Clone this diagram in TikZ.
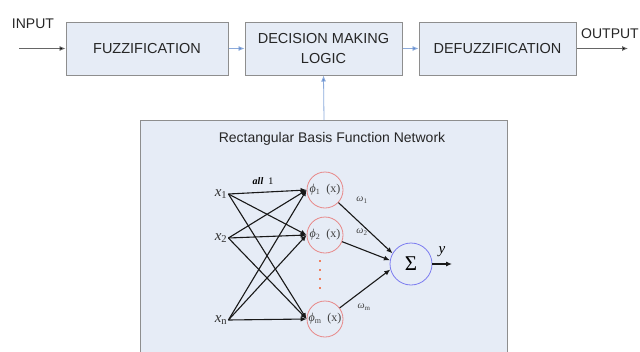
\documentclass[tikz,border=0pt]{standalone}
\usepackage{fontspec}
\setmainfont{Liberation Serif}
\setsansfont{Liberation Sans}
\usetikzlibrary{arrows.meta}
\definecolor{boxfill}{HTML}{E6ECF6}
\definecolor{boxline}{HTML}{8E8E8E}
\definecolor{linkblue}{HTML}{5A86CC}
\definecolor{phired}{HTML}{E88888}
\definecolor{sumblue}{HTML}{7C7CF0}
\definecolor{dotred}{HTML}{F08060}
\newcommand{\sub}[1]{\textsubscript{#1}}
\tikzset{x=1pt,y=-1pt,
 stage/.style={draw=boxline,fill=boxfill,line width=1pt,minimum height=53pt,
   align=center,text=black!85,font=\sffamily\fontsize{14.5}{20}\selectfont},
 panel/.style={draw=boxline,fill=boxfill,line width=1pt,anchor=north west,
   minimum width=367pt,minimum height=250pt},
 feed/.style={draw=black!60,line width=0.8pt,-{Latex[length=6pt,width=5pt,fill=black]}},
 link/.style={draw=linkblue!70,line width=0.8pt,-{Latex[length=6pt,width=5pt,fill=linkblue]}},
 unit/.style={circle,draw=phired,line width=0.8pt,minimum size=36pt,inner sep=0pt,
   text=black!75,font=\fontsize{12}{14}\selectfont},
 summer/.style={circle,draw=sumblue,line width=0.8pt,minimum size=42pt,inner sep=0pt,
   font=\fontsize{21}{24}\selectfont},
 wire/.style={draw=black!90,line width=1.1pt,-{Latex[length=6pt,width=5pt]}},
 inlabel/.style={inner sep=1pt,text=black!80,font=\fontsize{15}{17}\selectfont},
 weight/.style={text=black!75,font=\fontsize{10}{12}\selectfont},
 }

\begin{document}
\begin{tikzpicture}
    \useasboundingbox (0,0) rectangle (640,351);
    \clip (0,0) rectangle (640,351);
    % top chain
    \node[stage,minimum width=162pt] (fuzz) at (147,48.5) {FUZZIFICATION};
    \node[stage,minimum width=157pt] (logic) at (323.5,48.5) {DECISION MAKING\\LOGIC};
    \node[stage,minimum width=157pt] (defuzz) at (497.5,48.5) {DEFUZZIFICATION};
    \node[font=\sffamily\fontsize{14}{16}\selectfont,text=black!85] (inlab) at (33,24) {INPUT};
    \node[font=\sffamily\fontsize{14}{16}\selectfont,text=black!85] (outlab) at (610,34) {OUTPUT};
    \coordinate (src) at (19,48.5);
    \coordinate (dst) at (628,48.5);
    \draw[feed] (src) -- (fuzz.west);
    \draw[link] (fuzz.east) -- (logic.west);
    \draw[link] (logic.east) -- (defuzz.west);
    \draw[feed] (defuzz.east) -- (dst);
    % network panel
    \node[panel] (rbfn) at (140,120) {};
    \draw[link] (rbfn.north) -- (logic.south);
    \node[font=\sffamily\fontsize{14}{16}\selectfont,text=black!85] (title) at (332,139)
        {Rectangular Basis Function Network};
    % inputs and hidden units
    \node[inlabel] (x1) at (221,194) {\textit{x}\sub{1}};
    \node[inlabel] (x2) at (221,238) {\textit{x}\sub{2}};
    \node[inlabel] (xn) at (221,320) {\textit{x}\sub{n}};
    \node[unit] (phi1) at (325,190) {\textit{ϕ}\sub{1}\ \ (x)};
    \node[unit] (phi2) at (325,235) {\textit{ϕ}\sub{2}\ \ (x)};
    \node[unit] (phim) at (325,319) {\textit{ϕ}\sub{m}\ \ (x)};
    \node[summer] (sum) at (411,264) {Σ};
    \coordinate (yout) at (452,264);
    \foreach \i in {x1,x2,xn}
        \foreach \j in {phi1,phi2,phim}
            \draw[wire] (\i.east) -- (\j.west);
    \draw[dotred,line width=2pt,dash pattern=on 2pt off 7pt,shorten <=7pt,shorten >=5pt]
        ([xshift=-5pt]phi2.south) -- ([xshift=-5pt]phim.north);
    \draw[wire] (phi1) -- (sum.150);
    \draw[wire] (phi2) -- (sum.170);
    \draw[wire] (phim) -- (sum.195);
    \draw[wire] (sum.east) -- (yout);
    % labels
    \node[font=\fontsize{10}{12}\selectfont] (all) at (263,181) {\textbf{\textit{all}}\ \ 1};
    \node[weight] (w1) at (362,200) {\textit{ω}\sub{1}};
    \node[weight] (w2) at (362,232) {\textit{ω}\sub{2}};
    \node[weight] (wm) at (364,307) {\textit{ω}\sub{m}};
    \node[font=\fontsize{15}{17}\selectfont] (ylab) at (442,252) {\textit{y}};
\end{tikzpicture}
\end{document}
